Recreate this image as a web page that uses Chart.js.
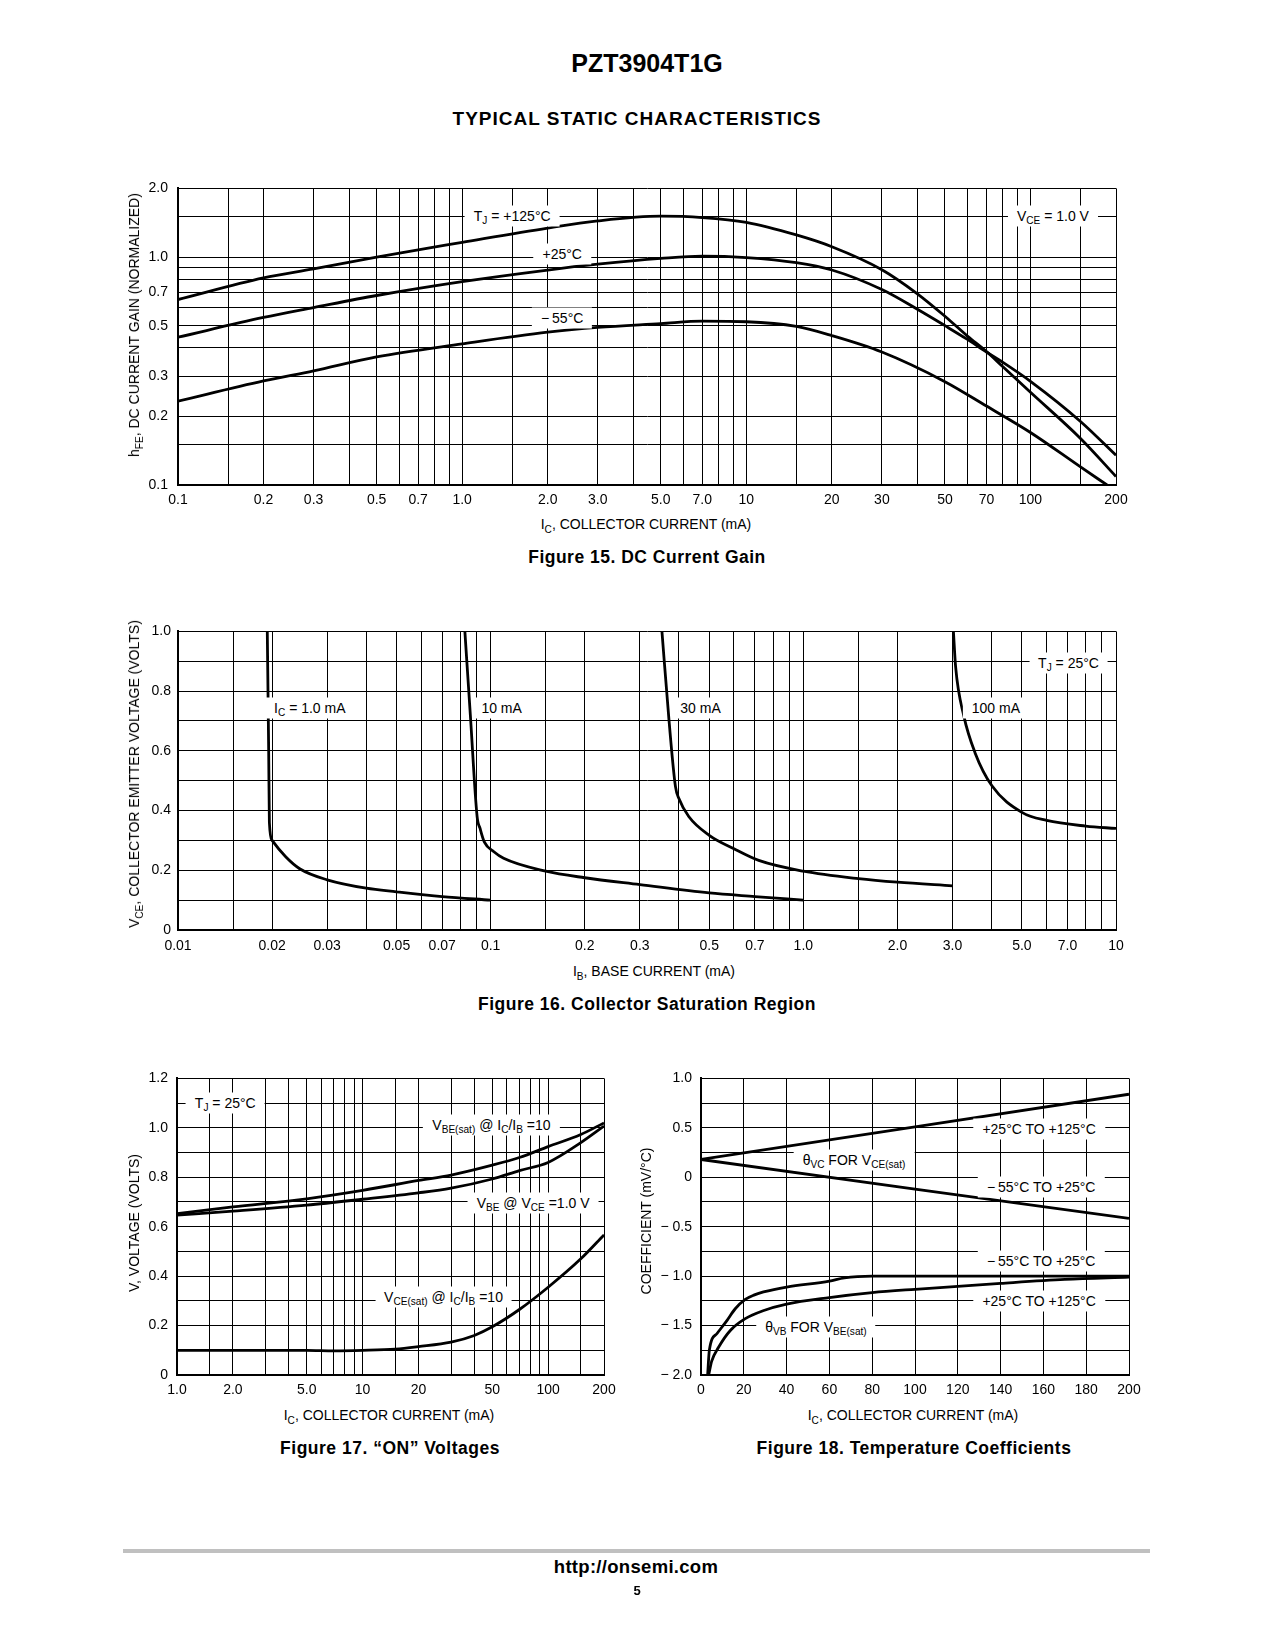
<!DOCTYPE html>
<html lang="en">
<head>
<meta charset="utf-8">
<title>PZT3904T1G - Typical Static Characteristics</title>
<script src="https://cdn.jsdelivr.net/npm/chart.js@4.4.1/dist/chart.umd.min.js"></script>
<style>
    body { margin: 0; background: #fff; color: #000; font-family: "Liberation Sans", Arial, Helvetica, sans-serif; }
    #page { position: relative; width: 1275px; height: 1650px; overflow: hidden; }
    .txt { position: absolute; white-space: nowrap; transform: translate(-50%, -50%); }
    .vert { transform: translate(-50%, -50%) rotate(-90deg); }
    .title { font-weight: bold; font-size: 25px; }
    .subtitle { font-weight: bold; font-size: 19px; letter-spacing: 1px; }
    .caption { font-weight: bold; font-size: 17.5px; letter-spacing: 0.5px; }
    .axis { font-size: 14px; }
    .box { position: absolute; }
    .box canvas { display: block; }
    .tag { position: absolute; white-space: nowrap; font-size: 14px; line-height: 16px; background: #fff; padding: 2px 9px 3px 9px; transform: translate(-50%, -50%); }
    sub { font-size: 72%; vertical-align: -0.35em; line-height: 0; }
    #rule { position: absolute; left: 123px; top: 1549px; width: 1027px; height: 4px; background: #c0c0c0; }
</style>
</head>
<body>
<div id="page">
    <div class="txt title" style="left:647px; top:63px;">PZT3904T1G</div>
    <div class="txt subtitle" style="left:637px; top:119px;">TYPICAL STATIC CHARACTERISTICS</div>

    <!-- Figure 15 -->
    <div class="box" id="caja15" style="left:100px; top:170px;"><canvas id="fig15" width="1036" height="345"></canvas></div>
    <div class="txt axis vert" style="left:134px; top:325px;">h<sub>FE</sub>, DC CURRENT GAIN (NORMALIZED)</div>
    <div class="txt axis" style="left:646px; top:524px;">I<sub>C</sub>, COLLECTOR CURRENT (mA)</div>
    <div class="txt caption" style="left:647px; top:557px;">Figure 15. DC Current Gain</div>

    <!-- Figure 16 -->
    <div class="box" id="caja16" style="left:100px; top:616px;"><canvas id="fig16" width="1036" height="344"></canvas></div>
    <div class="txt axis vert" style="left:134px; top:774px;">V<sub>CE</sub>, COLLECTOR EMITTER VOLTAGE (VOLTS)</div>
    <div class="txt axis" style="left:654px; top:971px;">I<sub>B</sub>, BASE CURRENT (mA)</div>
    <div class="txt caption" style="left:647px; top:1004px;">Figure 16. Collector Saturation Region</div>

    <!-- Figure 17 -->
    <div class="box" id="caja17" style="left:100px; top:1061px;"><canvas id="fig17" width="524" height="344"></canvas></div>
    <div class="txt axis vert" style="left:134px; top:1223px;">V, VOLTAGE (VOLTS)</div>
    <div class="txt axis" style="left:389px; top:1415px;">I<sub>C</sub>, COLLECTOR CURRENT (mA)</div>
    <div class="txt caption" style="left:390px; top:1448px;">Figure 17. “ON” Voltages</div>

    <!-- Figure 18 -->
    <div class="box" id="caja18" style="left:630px; top:1061px;"><canvas id="fig18" width="519" height="344"></canvas></div>
    <div class="txt axis vert" style="left:646px; top:1221px;">COEFFICIENT (mV/°C)</div>
    <div class="txt axis" style="left:913px; top:1415px;">I<sub>C</sub>, COLLECTOR CURRENT (mA)</div>
    <div class="txt caption" style="left:914px; top:1448px;">Figure 18. Temperature Coefficients</div>

    <div id="rule"></div>
    <div class="txt" style="left:636px; top:1567px; font-weight:bold; font-size:18.5px; letter-spacing:0.3px;">http://onsemi.com</div>
    <div class="txt" style="left:637px; top:1590px; font-weight:bold; font-size:13px;">5</div>
</div>

<script>
const FONT = '"Liberation Sans", Arial, Helvetica, sans-serif';

// ---- Figure 15: DC current gain (hFE normalizado) ----
const gainIc = [0.1, 0.2, 0.3, 0.5, 1.0, 2.0, 3.0, 5.0, 7.0, 10, 15, 20, 30, 40, 50, 60, 70, 80, 100, 150, 200];
const gain125 = [0.651, 0.81, 0.887, 1.0, 1.16, 1.34, 1.44, 1.51, 1.49, 1.42, 1.25, 1.11, 0.88, 0.69, 0.55, 0.45, 0.385, 0.33, 0.255, 0.16, 0.109];
const gain25 = [0.445, 0.543, 0.60, 0.678, 0.78, 0.877, 0.93, 0.986, 1.01, 0.995, 0.945, 0.877, 0.72, 0.59, 0.50, 0.435, 0.383, 0.345, 0.285, 0.19, 0.135];
const gainIcM55 = [0.1, 0.2, 0.3, 0.5, 1.0, 2.0, 3.0, 5.0, 7.0, 10, 15, 20, 30, 50, 70, 100, 150, 186];
const gainM55 = [0.233, 0.286, 0.317, 0.365, 0.416, 0.468, 0.491, 0.51, 0.523, 0.52, 0.496, 0.452, 0.383, 0.284, 0.222, 0.17, 0.12, 0.1];
const gainXTicks = [0.1, 0.2, 0.3, 0.5, 0.7, 1, 2, 3, 5, 7, 10, 20, 30, 50, 70, 100, 200];
const gainXLabels = ['0.1', '0.2', '0.3', '0.5', '0.7', '1.0', '2.0', '3.0', '5.0', '7.0', '10', '20', '30', '50', '70', '100', '200'];
const gainYGrid = [0.1, 0.15, 0.2, 0.3, 0.4, 0.5, 0.6, 0.7, 0.8, 0.9, 1.0, 1.5, 2.0];
const gainYTicks = [0.1, 0.2, 0.3, 0.5, 0.7, 1.0, 2.0];
const gainYLabels = ['0.1', '0.2', '0.3', '0.5', '0.7', '1.0', '2.0'];

// ---- Figure 16: Collector saturation region ----
const satIb1 = [0.0193, 0.0195, 0.0196, 0.0200, 0.0221, 0.0245, 0.03, 0.04, 0.05, 0.07, 0.1];
const satV1 = [1.0, 0.6, 0.36, 0.30, 0.245, 0.205, 0.168, 0.14, 0.128, 0.112, 0.1];
const satIb10 = [0.0827, 0.0861, 0.0905, 0.0925, 0.0955, 0.1024, 0.11, 0.15, 0.2, 0.3, 0.5, 0.7, 1.0];
const satV10 = [1.0, 0.72, 0.38, 0.34, 0.294, 0.262, 0.24, 0.197, 0.175, 0.152, 0.124, 0.112, 0.1];
const satIb30 = [0.353, 0.372, 0.39, 0.40, 0.43, 0.5, 0.6, 0.72, 1.0, 1.5, 2.0, 3.0];
const satV30 = [1.0, 0.70, 0.48, 0.44, 0.38, 0.317, 0.272, 0.233, 0.197, 0.172, 0.16, 0.148];
const satIb100 = [3.02, 3.07, 3.26, 3.54, 4.01, 5.0, 6.0, 8.0, 10];
const satV100 = [1.0, 0.88, 0.717, 0.594, 0.483, 0.394, 0.367, 0.348, 0.34];
const satXTicks = [0.01, 0.02, 0.03, 0.05, 0.07, 0.1, 0.2, 0.3, 0.5, 0.7, 1, 2, 3, 5, 7, 10];
const satXLabels = ['0.01', '0.02', '0.03', '0.05', '0.07', '0.1', '0.2', '0.3', '0.5', '0.7', '1.0', '2.0', '3.0', '5.0', '7.0', '10'];
const satYGrid = [0, 0.1, 0.2, 0.3, 0.4, 0.5, 0.6, 0.7, 0.8, 0.9, 1.0];
const satYTicks = [0, 0.2, 0.4, 0.6, 0.8, 1.0];
const satYLabels = ['0', '0.2', '0.4', '0.6', '0.8', '1.0'];

// ---- Figure 17: "ON" voltages ----
const onIc = [1, 2, 5, 10, 20, 30, 50, 70, 100, 150, 200];
const onVbeSat = [0.653, 0.68, 0.713, 0.747, 0.787, 0.809, 0.849, 0.88, 0.924, 0.973, 1.02];
const onVbe = [0.647, 0.663, 0.687, 0.711, 0.737, 0.756, 0.793, 0.827, 0.86, 0.94, 1.007];
const onIcSat = [1, 2, 5, 7, 10, 15, 20, 30, 40, 50, 70, 100, 150, 200];
const onVceSat = [0.1, 0.1, 0.1, 0.098, 0.1, 0.105, 0.115, 0.133, 0.16, 0.195, 0.265, 0.355, 0.47, 0.567];
const onXTicks = [1, 2, 5, 10, 20, 50, 100, 200];
const onXLabels = ['1.0', '2.0', '5.0', '10', '20', '50', '100', '200'];
const onYGrid = [0, 0.1, 0.2, 0.3, 0.4, 0.5, 0.6, 0.7, 0.8, 0.9, 1.0, 1.1, 1.2];
const onYTicks = [0, 0.2, 0.4, 0.6, 0.8, 1.0, 1.2];
const onYLabels = ['0', '0.2', '0.4', '0.6', '0.8', '1.0', '1.2'];

// ---- Figure 18: Temperature coefficients ----
const tcIcVc = [0, 100, 200];
const tcVcHot = [0.18, 0.51, 0.84];
const tcVcCold = [0.18, -0.12, -0.415];
const tcIcVbCold = [3.1, 3.9, 7.5, 12.1, 16, 20.7, 25, 29.2, 40, 60, 67, 80, 200];
const tcVbCold = [-2.0, -1.75, -1.58, -1.45, -1.33, -1.235, -1.19, -1.16, -1.11, -1.05, -1.017, -1.0, -1.0];
const tcIcVbHot = [3.6, 5, 8.2, 13.7, 20.7, 29, 40, 60, 80, 100, 140, 170, 200];
const tcVbHot = [-2.0, -1.86, -1.72, -1.55, -1.43, -1.35, -1.283, -1.217, -1.167, -1.133, -1.073, -1.033, -1.01];
const tcXGrid = [0, 20, 40, 60, 80, 100, 120, 140, 160, 180, 200];
const tcXLabels = ['0', '20', '40', '60', '80', '100', '120', '140', '160', '180', '200'];
const tcYGrid = [-2.0, -1.75, -1.5, -1.25, -1.0, -0.75, -0.5, -0.25, 0, 0.25, 0.5, 0.75, 1.0];
const tcYTicks = [-2.0, -1.5, -1.0, -0.5, 0, 0.5, 1.0];
const tcYLabels = ['\u2212 2.0', '\u2212 1.5', '\u2212 1.0', '\u2212 0.5', '0', '0.5', '1.0'];

// rejilla logarítmica: 1, 1.5, 2 ... 9 por década
function rejillaLog(min, max) {
    const pasos = [1, 1.5, 2, 3, 4, 5, 6, 7, 8, 9];
    const out = [];
    for (let d = Math.floor(Math.log10(min)); d <= Math.ceil(Math.log10(max)); d++) {
        pasos.forEach(p => {
            const v = Number((p * Math.pow(10, d)).toPrecision(3));
            if (v >= min * 0.999 && v <= max * 1.001) out.push(v);
        });
    }
    return out;
}

function curva(xs, ys) {
    return xs.map((x, i) => ({ x: x, y: ys[i] }));
}

function serie(xs, ys, modo) {
    return {
        data: curva(xs, ys),
        showLine: true,
        borderColor: '#000',
        borderWidth: 2.8,
        pointRadius: 0,
        fill: false,
        cubicInterpolationMode: modo || 'monotone'
    };
}

function etiquetaDe(valores, textos) {
    return (v) => {
        const i = valores.findIndex(t => Math.abs(t - v) <= 1e-6 * Math.max(1e-3, Math.abs(t)));
        return i < 0 ? '' : textos[i];
    };
}

function eje(tipo, min, max, rejilla, valores, textos, lado, tam, pad) {
    return {
        type: tipo,
        min: min,
        max: max,
        afterBuildTicks: (s) => { s.ticks = rejilla.map(v => ({ value: v })); },
        afterFit: (s) => { if (lado === 'x') s.height = tam; else s.width = tam; },
        ticks: {
            autoSkip: false,
            maxRotation: 0,
            minRotation: 0,
            color: '#000',
            padding: pad,
            font: { family: FONT, size: 14 },
            callback: etiquetaDe(valores, textos)
        },
        grid: { color: '#000', lineWidth: 1, drawTicks: false },
        border: { color: '#000', width: 2 }
    };
}

function crearGrafico(id, datasets, ejeX, ejeY) {
    return new Chart(document.getElementById(id), {
        type: 'scatter',
        data: { datasets: datasets },
        options: {
            responsive: false,
            animation: false,
            devicePixelRatio: 1,
            layout: { padding: { left: 0, right: 20, top: 14, bottom: 0 } },
            plugins: { legend: { display: false }, tooltip: { enabled: false } },
            scales: { x: ejeX, y: ejeY }
        }
    });
}

// etiquetas dentro del gráfico, con fondo blanco sobre la rejilla
function ponerEtiquetas(chart, cajaId, lista) {
    const caja = document.getElementById(cajaId);
    lista.forEach(e => {
        const d = document.createElement('div');
        d.className = 'tag';
        d.innerHTML = e.html;
        d.style.left = chart.scales.x.getPixelForValue(e.x) + 'px';
        d.style.top = chart.scales.y.getPixelForValue(e.y) + 'px';
        caja.appendChild(d);
    });
}

Chart.defaults.font.family = FONT;
Chart.defaults.color = '#000';

const fig15 = crearGrafico('fig15',
    [serie(gainIc, gain125), serie(gainIc, gain25), serie(gainIcM55, gainM55)],
    eje('logarithmic', 0.1, 200, rejillaLog(0.1, 200), gainXTicks, gainXLabels, 'x', 30, 7),
    eje('logarithmic', 0.1, 2.0, gainYGrid, gainYTicks, gainYLabels, 'y', 78, 10));
ponerEtiquetas(fig15, 'caja15', [
    { html: 'T<sub>J</sub> = +125°C', x: 1.5, y: 1.51 },
    { html: '+25°C', x: 2.25, y: 1.03 },
    { html: '\u2212\u200955°C', x: 2.25, y: 0.54 },
    { html: 'V<sub>CE</sub> = 1.0 V', x: 120, y: 1.51 }
]);

const fig16 = crearGrafico('fig16',
    [serie(satIb1, satV1), serie(satIb10, satV10), serie(satIb30, satV30), serie(satIb100, satV100)],
    eje('logarithmic', 0.01, 10, rejillaLog(0.01, 10), satXTicks, satXLabels, 'x', 30, 8),
    eje('linear', 0, 1.0, satYGrid, satYTicks, satYLabels, 'y', 78, 7));
ponerEtiquetas(fig16, 'caja16', [
    { html: 'I<sub>C</sub> = 1.0 mA', x: 0.0264, y: 0.745 },
    { html: '10 mA', x: 0.1084, y: 0.745 },
    { html: '30 mA', x: 0.469, y: 0.745 },
    { html: '100 mA', x: 4.13, y: 0.745 },
    { html: 'T<sub>J</sub> = 25°C', x: 7.05, y: 0.895 }
]);

const fig17 = crearGrafico('fig17',
    [serie(onIc, onVbeSat), serie(onIc, onVbe), serie(onIcSat, onVceSat)],
    eje('logarithmic', 1, 200, rejillaLog(1, 200), onXTicks, onXLabels, 'x', 30, 7),
    eje('linear', 0, 1.2, onYGrid, onYTicks, onYLabels, 'y', 77, 9));
ponerEtiquetas(fig17, 'caja17', [
    { html: 'T<sub>J</sub> = 25°C', x: 1.82, y: 1.1 },
    { html: 'V<sub>BE(sat)</sub> @ I<sub>C</sub>/I<sub>B</sub> =10', x: 49.5, y: 1.01 },
    { html: 'V<sub>BE</sub> @ V<sub>CE</sub> =1.0 V', x: 83, y: 0.695 },
    { html: 'V<sub>CE(sat)</sub> @ I<sub>C</sub>/I<sub>B</sub> =10', x: 27.3, y: 0.315 }
]);

const fig18 = crearGrafico('fig18',
    [serie(tcIcVc, tcVcHot, 'default'), serie(tcIcVc, tcVcCold, 'default'),
     serie(tcIcVbCold, tcVbCold), serie(tcIcVbHot, tcVbHot)],
    eje('linear', 0, 200, tcXGrid, tcXGrid, tcXLabels, 'x', 30, 7),
    eje('linear', -2.0, 1.0, tcYGrid, tcYTicks, tcYLabels, 'y', 71, 9));
ponerEtiquetas(fig18, 'caja18', [
    { html: '+25°C TO +125°C', x: 158, y: 0.49 },
    { html: 'θ<sub>VC</sub> FOR V<sub>CE(sat)</sub>', x: 71.5, y: 0.17 },
    { html: '\u2212\u200955°C TO +25°C', x: 159, y: -0.1 },
    { html: '\u2212\u200955°C TO +25°C', x: 159, y: -0.845 },
    { html: '+25°C TO +125°C', x: 158, y: -1.255 },
    { html: 'θ<sub>VB</sub> FOR V<sub>BE(sat)</sub>', x: 53.7, y: -1.515 }
]);
</script>
</body>
</html>
